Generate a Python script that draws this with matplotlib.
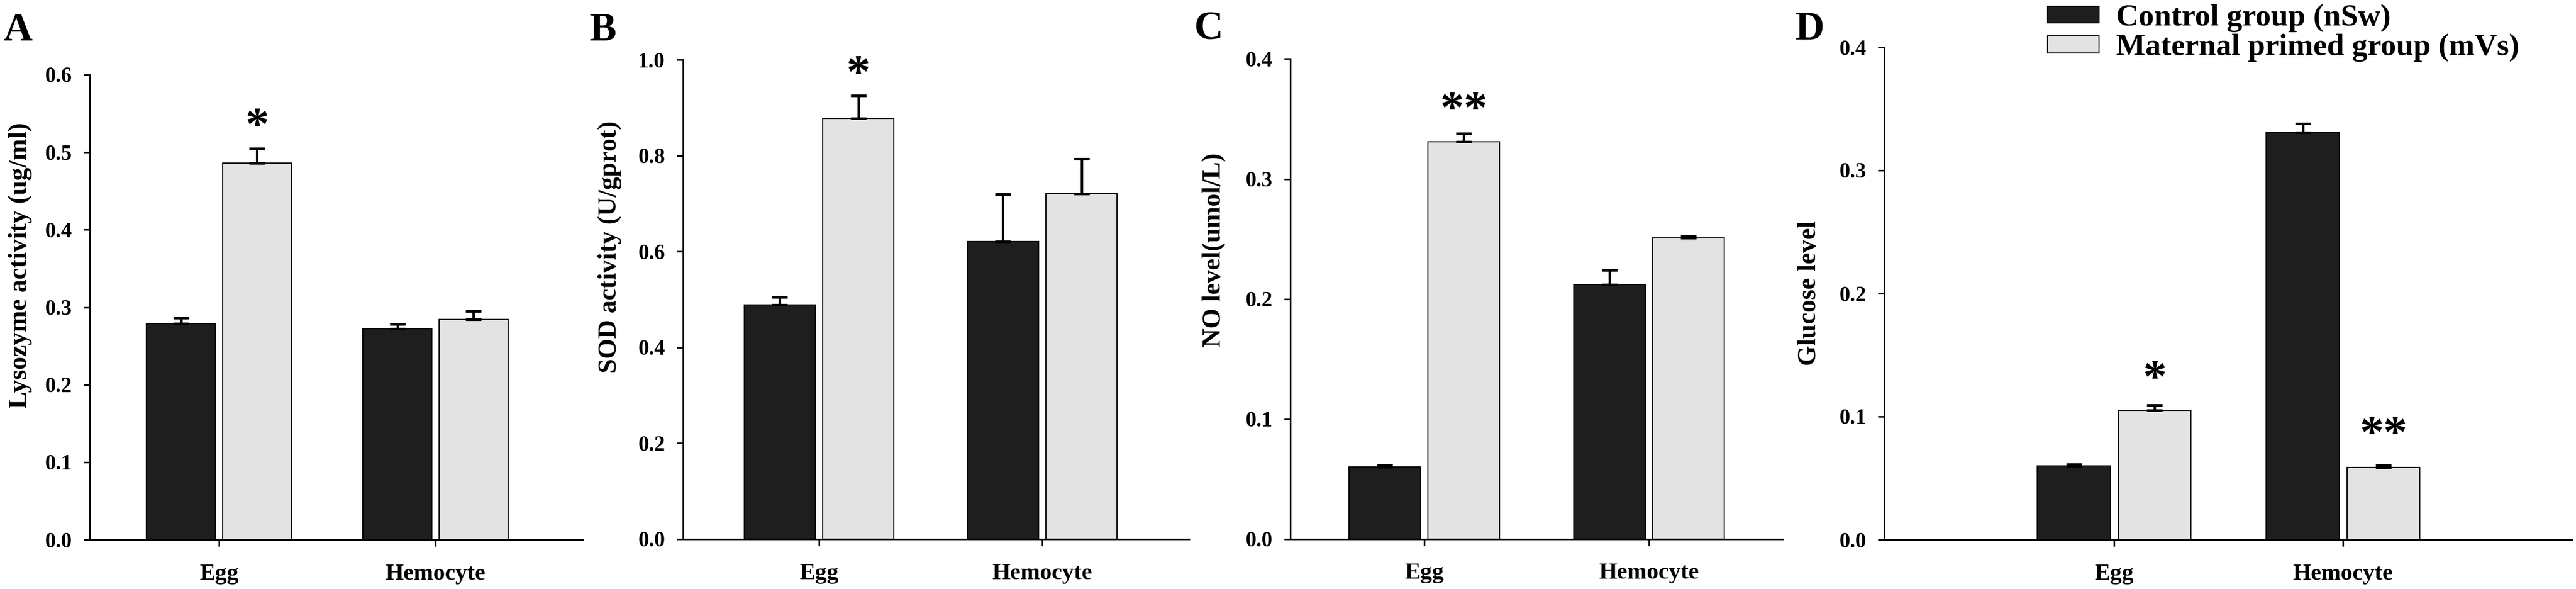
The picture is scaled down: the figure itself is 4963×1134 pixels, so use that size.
import matplotlib
matplotlib.use('Agg')
import matplotlib.pyplot as plt
import numpy as np

plt.rcParams['font.family'] = ['Liberation Serif', 'DejaVu Serif']
plt.rcParams['font.weight'] = 'bold'

# ---------------- data ----------------
categories = ['Egg', 'Hemocyte']
series_labels = ['Control group (nSw)', 'Maternal primed group (mVs)']
panel_letters = ['A', 'B', 'C', 'D']
ylabels = ['Lysozyme activity (ug/ml)', 'SOD activity (U/gprot)',
           'NO level(umol/L)', 'Glucose level']

lyso_ctrl = [0.279, 0.272]
lyso_ctrl_err = [0.007, 0.006]
lyso_mvs = [0.486, 0.284]
lyso_mvs_err = [0.019, 0.011]

sod_ctrl = [0.489, 0.621]
sod_ctrl_err = [0.016, 0.098]
sod_mvs = [0.878, 0.721]
sod_mvs_err = [0.047, 0.072]

no_ctrl = [0.060, 0.212]
no_ctrl_err = [0.0013, 0.012]
no_mvs = [0.331, 0.251]
no_mvs_err = [0.007, 0.0017]

glu_ctrl = [0.060, 0.331]
glu_ctrl_err = [0.0012, 0.0068]
glu_mvs = [0.105, 0.0586]
glu_mvs_err = [0.0042, 0.0017]

yticks_A = [0.0, 0.1, 0.2, 0.3, 0.4, 0.5, 0.6]
yticks_B = [0.0, 0.2, 0.4, 0.6, 0.8, 1.0]
yticks_C = [0.0, 0.1, 0.2, 0.3, 0.4]
yticks_D = [0.0, 0.1, 0.2, 0.3, 0.4]

# significance marks: (category index, text, y centre of the mark)
stars_A = [(0, '*', 0.545)]
stars_B = [(0, '*', 0.989)]
stars_C = [(0, '**', 0.365)]
stars_D = [(0, '*', 0.138), (1, '**', 0.093)]

# ---------------- layout ----------------
W, H = 4963, 1134
DPI = 100
fig = plt.figure(figsize=(W / DPI, H / DPI), dpi=DPI)

# axes rectangles in pixels: left, top, right, bottom
rects = [(173, 144, 1123, 1039),
         (1316, 115, 2291, 1038),
         (2486, 113.5, 3435, 1037.6),
         (3630, 91, 4956, 1039)]
xlims = [(-0.597, 1.681), (-0.609, 1.658), (-0.596, 1.596), (-1.005, 2.002)]
label_coords = [(-0.117, 0.590), (-0.121, 0.610), (-0.1307, 0.602), (-0.091, 0.501)]
letter_pos = [(6, 78), (1136, 78), (2300, 76), (3459, 76)]

panels = [
    (lyso_ctrl, lyso_ctrl_err, lyso_mvs, lyso_mvs_err, yticks_A, stars_A),
    (sod_ctrl, sod_ctrl_err, sod_mvs, sod_mvs_err, yticks_B, stars_B),
    (no_ctrl, no_ctrl_err, no_mvs, no_mvs_err, yticks_C, stars_C),
    (glu_ctrl, glu_ctrl_err, glu_mvs, glu_mvs_err, yticks_D, stars_D),
]

BLACK = '#1e1e1e'
GRAY = '#e3e3e3'
bw = 0.318
off = 0.176
x = np.arange(len(categories))

axes = []
handles = None
for i, (ctrl, ctrl_err, mvs, mvs_err, yticks, stars) in enumerate(panels):
    l, t, r, b = rects[i]
    ax = fig.add_axes([l / W, 1 - b / H, (r - l) / W, (b - t) / H])
    axes.append(ax)
    b1 = ax.bar(x - off, ctrl, bw, color=BLACK, edgecolor='black', linewidth=1.6,
                zorder=2, label=series_labels[0])
    b2 = ax.bar(x + off, mvs, bw, color=GRAY, edgecolor='black', linewidth=1.6,
                zorder=2, label=series_labels[1])
    ax.errorbar(x - off, ctrl, yerr=[np.zeros(len(ctrl)), ctrl_err], fmt='none',
                ecolor='black', elinewidth=3.4, capsize=10.5, capthick=3.6, zorder=3)
    ax.errorbar(x + off, mvs, yerr=[np.zeros(len(mvs)), mvs_err], fmt='none',
                ecolor='black', elinewidth=3.4, capsize=10.5, capthick=3.6, zorder=3)
    if handles is None:
        handles = [b1, b2]

    ax.set_xlim(*xlims[i])
    ax.set_ylim(yticks[0], yticks[-1])
    ax.set_yticks(yticks)
    ax.set_yticklabels([f'{v:.1f}' for v in yticks])
    ax.set_xticks(x)
    ax.set_xticklabels(categories)
    for s in ['top', 'right']:
        ax.spines[s].set_visible(False)
    for s in ['left', 'bottom']:
        ax.spines[s].set_linewidth(2.2)
    ax.tick_params(axis='y', direction='out', length=9, width=2.2, labelsize=30, pad=16)
    ax.tick_params(axis='x', direction='out', length=9, width=2.2, labelsize=32.5, pad=24)

    ax.set_ylabel(ylabels[i], fontsize=36, fontweight='bold')
    ax.yaxis.set_label_coords(*label_coords[i])

    for (ci, txt, yv) in stars:
        ax.annotate(txt, xy=(x[ci] + off, yv), xytext=(0, -31), textcoords='offset points',
                    ha='center', va='baseline', fontsize=66, fontweight='bold')

    lx, ly = letter_pos[i]
    fig.text(lx / W, 1 - ly / H, panel_letters[i], fontsize=56, fontweight='bold',
             ha='left', va='baseline')

leg = axes[3].legend(handles, series_labels, loc='upper left',
                     bbox_to_anchor=(3945 / W, 1 - 8 / H), bbox_transform=fig.transFigure,
                     frameon=False, borderpad=0, borderaxespad=0,
                     fontsize=43, handlelength=99 / 60, handleheight=28 / 60,
                     handletextpad=34 / 60, labelspacing=0.05)
for txt in leg.get_texts():
    txt.set_fontweight('bold')

fig.savefig('out.png', dpi=DPI)
